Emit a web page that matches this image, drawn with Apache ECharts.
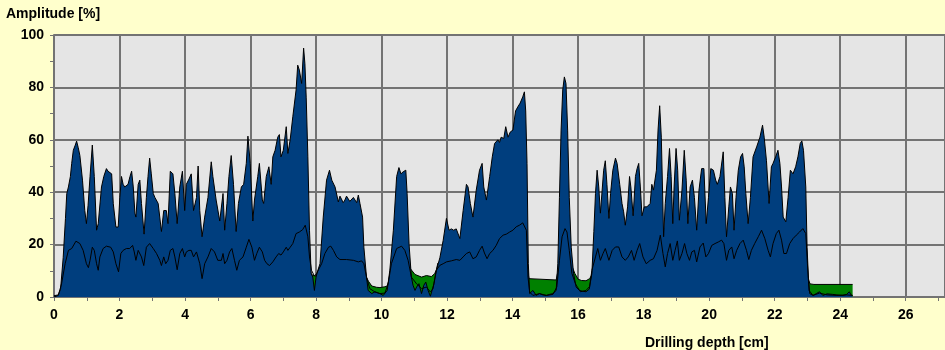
<!DOCTYPE html>
<html>
<head>
<meta charset="utf-8">
<script src="https://cdn.jsdelivr.net/npm/echarts@6/dist/echarts.min.js"></script>
<style>
html,body{margin:0;padding:0;background:#FFFFCC;}
#chart{width:945px;height:350px;}
</style>
</head>
<body>
<div id="chart"></div>
<script>
// Amplitude [%] vs drilling depth [cm]  (blue filled curve)
var amplitude = [
[0,0.5],[0.13,0.8],[0.2,3],[0.28,15],[0.35,30],[0.39,39.5],[0.44,42],[0.5,46],[0.54,51],[0.59,56],[0.65,58],[0.69,59.5],[0.74,57],[0.79,54],[0.87,44.6],[0.94,33],[0.99,28],[1.04,35],[1.1,46],[1.17,58],[1.23,46],[1.3,25.5],[1.35,28],[1.45,42],[1.52,46],[1.6,49],[1.65,48],[1.7,48],[1.76,47],[1.81,35.6],[1.89,26.7],[1.96,26.7],
[2.01,38],[2.06,46],[2.11,43],[2.16,42],[2.21,42],[2.26,43],[2.32,46],[2.37,48],[2.42,42],[2.47,32],[2.5,30.5],[2.57,43],[2.62,44.6],[2.67,35.7],[2.75,24],[2.82,38],[2.87,46],[2.92,53],[2.97,47],[3.03,39.5],[3.08,38],[3.13,37.6],[3.18,35.7],[3.28,25],[3.35,33],[3.43,33],[3.48,28],[3.55,48],[3.63,47],[3.69,39.5],[3.76,28],[3.84,42],[3.92,48],[3.99,33],
[4.04,43],[4.12,45],[4.19,47],[4.26,33],[4.35,38],[4.4,50],[4.45,33],[4.52,23],[4.6,30.5],[4.7,38],[4.8,51.6],[4.85,46],[4.95,37],[5.06,29],[5.16,39.5],[5.21,25.5],[5.28,35.7],[5.34,46],[5.41,54],[5.48,43],[5.56,25],[5.63,35.7],[5.72,42],[5.79,43],[5.87,51],[5.92,61.4],[5.99,51],
[6.07,29],[6.12,37],[6.22,46],[6.27,51],[6.36,37],[6.4,35.7],[6.48,46],[6.56,49.7],[6.63,43],[6.68,53.5],[6.75,56],[6.83,61],[6.88,62],[6.93,53.5],[7.0,56],[7.09,65],[7.14,54.8],[7.21,60],[7.29,68.8],[7.39,79],[7.44,88.5],[7.49,86.6],[7.56,81.5],[7.62,95],[7.66,89],[7.7,76],[7.75,53.5],[7.8,25.5],[7.85,9],[7.9,7.6],[7.95,2.5],[8.0,7.6],[8.05,10],
[8.12,12.7],[8.22,30.5],[8.32,44.6],[8.41,48.4],[8.48,44.6],[8.58,42],[8.68,36.3],[8.73,38.5],[8.78,38],[8.83,36],[8.88,37],[8.93,38.5],[8.98,38.9],[9.03,36.5],[9.09,36.3],[9.14,38],[9.19,37],[9.24,36],[9.29,38.9],[9.34,35.7],[9.42,30.5],[9.46,19],[9.54,7.6],[9.59,2.5],[9.7,1.3],[9.8,2],[9.95,1.3],
[10.05,0.6],[10.17,2.5],[10.25,10],[10.36,25.5],[10.46,46],[10.53,49.4],[10.59,47],[10.66,47.8],[10.74,48.4],[10.78,39.5],[10.84,20],[10.91,7.6],[10.96,4.5],[11.02,2.5],[11.07,3.8],[11.14,5.1],[11.22,1.3],[11.29,4.5],[11.35,5.7],[11.42,2.5],[11.49,0.3],[11.55,1],[11.6,5.1],[11.67,10],[11.78,15],[11.88,21.6],[11.98,30],
[12.06,25.5],[12.13,26],[12.2,25.5],[12.28,26],[12.39,22.3],[12.49,33],[12.59,43],[12.64,42],[12.71,35.7],[12.79,30.5],[12.89,40.8],[12.99,48.4],[13.07,51],[13.12,42],[13.2,37],[13.3,46],[13.38,53.5],[13.45,58.6],[13.55,60],[13.6,59],[13.65,61],[13.73,60.5],[13.79,65],[13.86,61],[13.93,63],
[14.01,63.7],[14.09,71],[14.16,72.6],[14.23,74],[14.31,76.4],[14.36,78.3],[14.4,71],[14.44,51],[14.48,12.7],[14.52,1.3],[14.62,2.5],[14.72,0.6],[14.82,1.3],[14.92,0.8],[15.03,0.6],[15.13,1],[15.23,1.3],[15.33,2.5],[15.38,12.7],[15.43,38],[15.48,63.7],[15.53,79],[15.58,84],[15.63,81.5],[15.68,63.7],[15.73,38],[15.79,19],[15.86,9],[15.94,3.8],
[16.04,2.5],[16.14,2.2],[16.24,2],[16.34,3],[16.42,9],[16.48,25],[16.53,39.5],[16.58,48.4],[16.63,42],[16.68,32],[16.73,32.5],[16.78,48.4],[16.83,52],[16.88,43],[16.94,30],[16.99,39.5],[17.06,48.4],[17.14,53],[17.19,51],[17.27,43],[17.34,35.7],[17.39,32.5],[17.44,27.4],[17.51,34.4],[17.57,46],[17.61,42],[17.68,31],[17.75,46],[17.8,49],[17.85,51],[17.9,42],[17.95,31],
[18.02,34.4],[18.1,34.4],[18.2,35.7],[18.25,43],[18.3,40.8],[18.39,48.4],[18.44,63.7],[18.49,73],[18.54,61],[18.61,23],[18.66,35.7],[18.73,46],[18.79,56.7],[18.84,46],[18.89,28],[18.93,42],[18.99,56.7],[19.04,48.4],[19.09,29.3],[19.17,40.8],[19.24,56],[19.3,44.6],[19.35,28],[19.42,42],[19.49,44.6],[19.55,38],[19.62,25.5],[19.69,40.8],[19.77,49],[19.84,49],[19.91,28],[19.98,38],
[20.05,49],[20.13,48.4],[20.2,44.6],[20.25,43],[20.33,46],[20.43,55.4],[20.48,38],[20.53,23],[20.6,34.4],[20.65,42],[20.71,39.5],[20.76,25.5],[20.82,38],[20.89,48.4],[20.96,53.5],[21.02,54.8],[21.07,49.7],[21.12,39.5],[21.19,28],[21.26,38],[21.34,53.5],[21.45,57.3],[21.55,61],[21.63,65.6],[21.68,61],[21.75,52],[21.83,35.7],[21.9,49.7],[21.95,51],
[22.03,53.5],[22.1,56],[22.16,51],[22.21,42],[22.26,30.5],[22.34,28.7],[22.41,38],[22.48,48.4],[22.56,47],[22.64,49.7],[22.71,53.5],[22.78,58.6],[22.83,59.6],[22.88,56],[22.95,42],[22.99,19],[23.03,7.6],[23.07,1.3],[23.17,0.6],[23.27,1.3],[23.37,2],[23.47,0.6],[23.6,1.2],[23.77,1],[23.9,0.8],[24.08,0.6],[24.2,1],[24.28,2],[24.33,0.8],[24.38,0.6]
];

// Mean amplitude (black line)
var meanAmplitude = [
[0,0],[0.13,0.6],[0.23,5],[0.34,12.7],[0.44,17.8],[0.54,18.5],[0.67,21.3],[0.79,20.4],[0.89,17.8],[0.99,12.7],[1.05,11.2],[1.1,14],[1.17,19],[1.23,17.8],[1.3,12.7],[1.35,10.2],[1.4,15.3],[1.5,18.5],[1.6,19.4],[1.73,19],[1.81,17.2],[1.89,12.7],[1.97,9.6],
[2.04,16.6],[2.11,17.8],[2.21,18.5],[2.31,18.5],[2.4,19.7],[2.45,17.2],[2.5,14],[2.57,17.8],[2.62,18.5],[2.67,15.3],[2.74,12],[2.82,19],[2.92,20.4],[3.03,18.5],[3.13,16.6],[3.23,14],[3.28,12],[3.35,15.3],[3.41,12.7],[3.48,14],[3.55,17.8],[3.63,18.5],[3.69,15.3],[3.76,10.4],[3.84,16.6],[3.92,18.5],[3.99,15.3],
[4.04,17.2],[4.12,17.8],[4.19,17.8],[4.26,15.3],[4.35,17.2],[4.4,17.8],[4.45,12.7],[4.52,7],[4.6,12.7],[4.7,15.3],[4.8,18.5],[4.9,17.2],[5.0,14],[5.11,14],[5.16,16.6],[5.21,12.7],[5.28,14],[5.36,17.2],[5.43,18.5],[5.51,14],[5.58,10.2],[5.66,14],[5.77,15.3],[5.87,19],[5.95,22],
[6.04,19],[6.12,14],[6.19,16.6],[6.27,19],[6.36,17.2],[6.43,14],[6.5,12.7],[6.58,12],[6.68,13.4],[6.78,15.3],[6.86,16.6],[6.93,16],[7.0,17.2],[7.09,19],[7.14,17.8],[7.21,19],[7.29,20.4],[7.39,24.2],[7.49,24.8],[7.59,25.7],[7.67,27.4],[7.75,23],[7.8,15.3],[7.86,10.2],[7.95,8],
[8.02,9],[8.1,11],[8.17,12.7],[8.27,16.6],[8.38,19],[8.45,19.4],[8.53,17.8],[8.63,15.3],[8.73,14.3],[8.93,14.3],[9.14,14],[9.29,13.4],[9.39,13.8],[9.46,12.7],[9.54,7.6],[9.64,3.2],[9.8,1.9],[9.95,1.3],
[10.1,1.5],[10.2,5],[10.3,12.7],[10.46,18.5],[10.61,19.4],[10.71,17.8],[10.81,14],[10.91,7.6],[11.07,5],[11.22,3.2],[11.37,3.8],[11.49,1.9],[11.57,3.2],[11.67,10.2],[11.78,12.1],[11.88,12.7],[11.98,13.4],
[12.13,13.8],[12.28,14.3],[12.39,14],[12.49,15.3],[12.59,16.6],[12.69,17.2],[12.79,14.6],[12.89,15.3],[12.99,17.8],[13.07,19.4],[13.14,16.8],[13.22,14.6],[13.3,16.6],[13.4,17.8],[13.5,19.7],[13.6,22.3],[13.71,23.6],[13.81,24],[13.91,24.8],
[14.01,25.5],[14.11,26.8],[14.21,27.4],[14.31,28.3],[14.37,29],[14.42,25.5],[14.47,7.6],[14.52,1.9],[14.62,0.6],[14.82,1.3],[15.03,0.6],[15.23,1],[15.35,3.8],[15.43,14],[15.51,23],[15.6,26.1],[15.66,24.8],[15.73,17.8],[15.81,9],[15.92,5],
[16.07,2],[16.24,2.5],[16.35,4],[16.42,10.2],[16.53,15.3],[16.6,18.5],[16.68,14],[16.76,16.6],[16.83,18.5],[16.94,14],[17.04,17.8],[17.14,19.1],[17.24,19.1],[17.34,15.3],[17.44,14],[17.53,15.3],[17.63,17.8],[17.71,14],[17.8,17.8],[17.88,20.4],[17.98,15.3],
[18.08,12.7],[18.2,14],[18.3,14.6],[18.41,17.8],[18.51,23.6],[18.59,16.6],[18.66,11.5],[18.73,16.6],[18.81,20.4],[18.89,14],[18.96,17.8],[19.03,21.4],[19.09,14],[19.17,16.6],[19.25,20.4],[19.32,16.6],[19.4,14],[19.47,17.2],[19.55,17.8],[19.62,13.4],[19.72,19.1],[19.82,20.6],[19.9,15.3],[19.98,16.6],
[20.08,19.7],[20.18,20.4],[20.28,21],[20.38,21.7],[20.45,20.4],[20.53,14],[20.6,17.8],[20.69,19.1],[20.76,14.6],[20.84,17.8],[20.94,20.4],[21.04,21.7],[21.14,17.8],[21.21,14.3],[21.29,17.8],[21.39,20.4],[21.5,23],[21.6,25.5],[21.7,22.3],[21.8,17.8],[21.87,15.3],[21.95,20.4],
[22.05,24.2],[22.13,25.5],[22.21,21.7],[22.28,16.6],[22.36,16.6],[22.46,20.4],[22.56,22.3],[22.66,23.6],[22.76,24.8],[22.86,26.1],[22.95,24.2],[23.0,12.7],[23.05,2.5],[23.17,0.6],[23.37,1.5],[23.6,0.8],[23.9,0.6],[24.2,0.8],[24.38,0.6]
];

// Green low-level zones (drawn behind the blue curve)
var lowZone1 = [[7.8,11],[7.85,9],[7.9,8.2],[7.95,7.8],[8.0,8],[8.05,9.5],[8.1,11]];
var lowZone2 = [[9.45,14],[9.52,8],[9.6,6],[9.7,4.2],[9.85,3.7],[9.95,3.6],[10.1,3.9],[10.17,4.2],[10.23,6.4],[10.3,12]];
var lowZone3 = [[10.84,14],[10.88,10.8],[11.02,8.6],[11.22,7.6],[11.37,8.2],[11.52,7.8],[11.62,8.9],[11.67,10.2],[11.72,13]];
var lowZone4 = [[14.46,10],[14.5,7],[14.55,6.5],[15.33,6.5],[15.37,9]];
var lowZone5 = [[15.8,14],[15.82,11.5],[15.9,9],[16.0,6.8],[16.1,6.3],[16.24,6.2],[16.35,7],[16.4,8],[16.45,10],[16.5,14]];
var lowZone6 = [[23.01,8],[23.04,6.4],[23.08,5],[23.2,4.8],[24.38,4.8]];

var xTickStep = 2, xMax = 27.2;
var yTicks = [0, 20, 40, 60, 80, 100];

var lowZones = [lowZone1, lowZone2, lowZone3, lowZone4, lowZone5, lowZone6];
var greenData = [];
lowZones.forEach(function (z, i) {
  if (i > 0) greenData.push([z[0][0] - 0.001, null]);
  z.forEach(function (p) { greenData.push(p); });
});

var font = 'Liberation Sans, Arial, sans-serif';
var gridColor = '#737373';
var chart = echarts.init(document.getElementById('chart'), null, {renderer: 'canvas'});
chart.setOption({
  animation: false,
  backgroundColor: '#FFFFCC',
  title: [
    {text: 'Amplitude [%]', left: 1, top: 2, textStyle: {fontFamily: font, fontSize: 14, fontWeight: 'bold', color: '#000'}},
    {text: 'Drilling depth [cm]', left: 640, top: 331, textStyle: {fontFamily: font, fontSize: 14, fontWeight: 'bold', color: '#000'}}
  ],
  grid: {
    left: 54, top: 35, right: 0, bottom: 53,
    show: true, backgroundColor: '#E5E5E5', borderWidth: 0,
    containLabel: false, outerBoundsMode: 'none'
  },
  xAxis: {
    type: 'value', min: 0, max: xMax, interval: xTickStep,
    axisLine: {show: true, onZero: false, lineStyle: {color: gridColor, width: 1}},
    axisTick: {show: true, length: 4, lineStyle: {color: gridColor}},
    minorTick: {show: true, splitNumber: 2, length: 4, lineStyle: {color: gridColor}},
    splitLine: {show: true, lineStyle: {color: gridColor, width: 2}},
    axisLabel: {show: true, margin: 11, showMaxLabel: false, fontFamily: font, fontSize: 14, fontWeight: 'bold', color: '#000',
      formatter: function (v) { return (v % 2 === 0) ? String(v) : ''; }}
  },
  yAxis: {
    type: 'value', min: yTicks[0], max: yTicks[yTicks.length - 1], interval: yTicks[1] - yTicks[0],
    axisLine: {show: true, lineStyle: {color: gridColor, width: 2}},
    axisTick: {show: true, length: 4, lineStyle: {color: gridColor}},
    minorTick: {show: true, splitNumber: 2, length: 4, lineStyle: {color: gridColor}},
    splitLine: {show: true, lineStyle: {color: gridColor, width: 2}},
    axisLabel: {show: true, margin: 10, fontFamily: font, fontSize: 14, fontWeight: 'bold', color: '#000'}
  },
  series: [
    {
      type: 'line', data: greenData, showSymbol: false, symbol: 'none', connectNulls: false,
      lineStyle: {color: '#000', width: 1}, areaStyle: {color: '#008000', opacity: 1}, z: 2
    },
    {
      type: 'line', data: amplitude, showSymbol: false, symbol: 'none',
      lineStyle: {color: '#000', width: 1}, areaStyle: {color: '#003E7E', opacity: 1}, z: 3
    },
    {
      type: 'line', data: meanAmplitude, showSymbol: false, symbol: 'none',
      lineStyle: {color: '#000', width: 1}, z: 4
    }
  ]
});
</script>
</body>
</html>
